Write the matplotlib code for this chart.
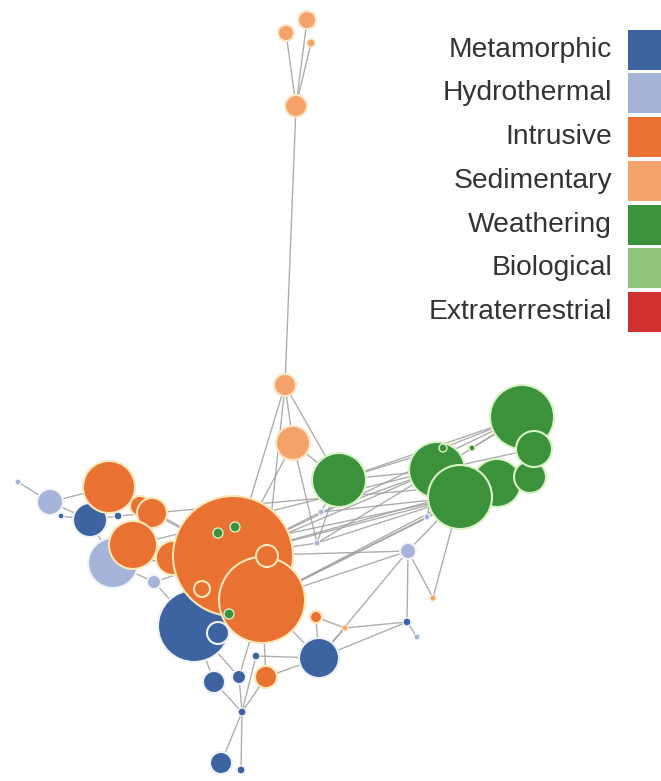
import matplotlib.pyplot as plt
from matplotlib.patches import Circle, Rectangle

# groups and colours
groups = ["Metamorphic", "Hydrothermal", "Intrusive", "Sedimentary",
          "Weathering", "Biological", "Extraterrestrial"]
group_colors = ["#3d64a0", "#a5b4d8", "#e97132", "#f4a36b",
                "#3c923a", "#90c47f", "#d03030"]
ring_colors = ["#eef2fa", "#f2f4fa", "#fbe6b8", "#fbe6c8",
               "#d8f2c8", "#eaf6e4", "#f8d8d8"]

# nodes (pixel layout of the network), drawn in this order
node_x = [286, 307, 311, 296, 285, 293, 339, 437, 522, 497, 530, 534, 460, 443, 472,
          18, 50, 61, 90, 113, 109, 140, 152, 133, 154, 194, 173, 233, 262, 267,
          202, 218, 235, 229, 218, 316, 319, 266, 214, 239, 256, 242, 221, 241,
          408, 407, 433, 345, 417, 321, 317, 427, 118]
node_y = [33, 20, 43, 106, 385, 443, 480, 470, 417, 483, 477, 449, 497, 448, 448,
          482, 502, 516, 520, 563, 487, 506, 513, 545, 582, 626, 558, 556, 600, 556,
          589, 533, 527, 614, 633, 617, 658, 677, 682, 677, 656, 712, 763, 770,
          551, 622, 598, 628, 637, 512, 543, 517, 516]
node_r = [8, 9, 4, 11, 11, 17, 27, 28, 32, 24, 16, 18, 32, 4, 3,
          3, 13, 3, 17, 25, 26, 10, 15, 24, 7, 36, 17, 60, 43, 11,
          8, 5, 5, 5, 11, 6, 20, 11, 11, 7, 4, 4, 11, 4,
          8, 4, 3, 3, 3, 3, 3, 3, 4]
node_group = [3, 3, 3, 3, 3, 3, 4, 4, 4, 4, 4, 4, 4, 4, 4,
              1, 1, 0, 0, 1, 2, 2, 2, 2, 1, 0, 2, 2, 2, 2,
              2, 4, 4, 4, 0, 2, 0, 2, 0, 0, 0, 0, 0, 0,
              1, 0, 3, 3, 1, 1, 1, 1, 0]

edges = [(0, 3), (1, 3), (2, 3), (3, 4), (4, 5), (4, 27), (4, 6), (4, 29),
         (5, 27), (5, 6), (5, 50), (6, 7), (6, 13), (6, 8),
         (27, 7), (27, 12), (27, 8), (28, 12), (28, 9), (49, 7), (50, 12),
         (27, 44), (28, 44), (44, 12), (44, 36), (44, 45), (44, 46), (12, 46),
         (45, 48), (45, 47), (36, 45), (47, 36), (35, 47), (28, 51), (51, 12),
         (51, 7), (49, 6), (50, 6), (27, 49), (27, 50),
         (23, 7), (26, 12), (22, 9), (49, 12), (50, 7), (27, 9),
         (38, 41), (39, 41), (41, 42), (41, 43), (40, 41), (37, 41), (25, 38),
         (25, 39), (28, 39), (28, 37), (36, 37), (36, 40), (28, 36), (35, 36),
         (15, 16), (16, 18), (17, 18), (18, 20), (16, 20), (18, 19), (19, 24),
         (24, 25), (24, 27), (21, 22), (20, 27), (23, 27), (26, 27), (22, 27),
         (19, 27), (25, 28), (7, 8), (7, 11), (12, 9), (8, 11), (9, 10),
         (13, 8), (14, 8), (52, 22), (52, 18)]

fig = plt.figure(figsize=(6.61, 7.81), dpi=100)
ax = fig.add_axes([0, 0, 1, 1])
ax.set_xlim(0, 661)
ax.set_ylim(781, 0)
ax.set_aspect("equal")
ax.axis("off")

# edges
for i, j in edges:
    ax.plot([node_x[i], node_x[j]], [node_y[i], node_y[j]],
            color="#a0a0a0", lw=1.0, alpha=0.85, zorder=1)

# nodes
for k in range(len(node_x)):
    g = node_group[k]
    ax.add_patch(Circle((node_x[k], node_y[k]), node_r[k],
                        facecolor=group_colors[g], edgecolor=ring_colors[g],
                        lw=1.5 if node_r[k] > 5 else 1.0, zorder=2 + k * 0.01))

# legend
row_top = [30, 73, 117, 161, 205, 248, 292]
for k, name in enumerate(groups):
    ax.add_patch(Rectangle((628, row_top[k]), 40, 40,
                           facecolor=group_colors[k], edgecolor="none", zorder=5))
    ax.text(612, row_top[k] + 20, name, ha="right", va="center",
            fontsize=20.3, color="#333333", family="Liberation Sans", zorder=5)

fig.savefig("out.png", dpi=100)
